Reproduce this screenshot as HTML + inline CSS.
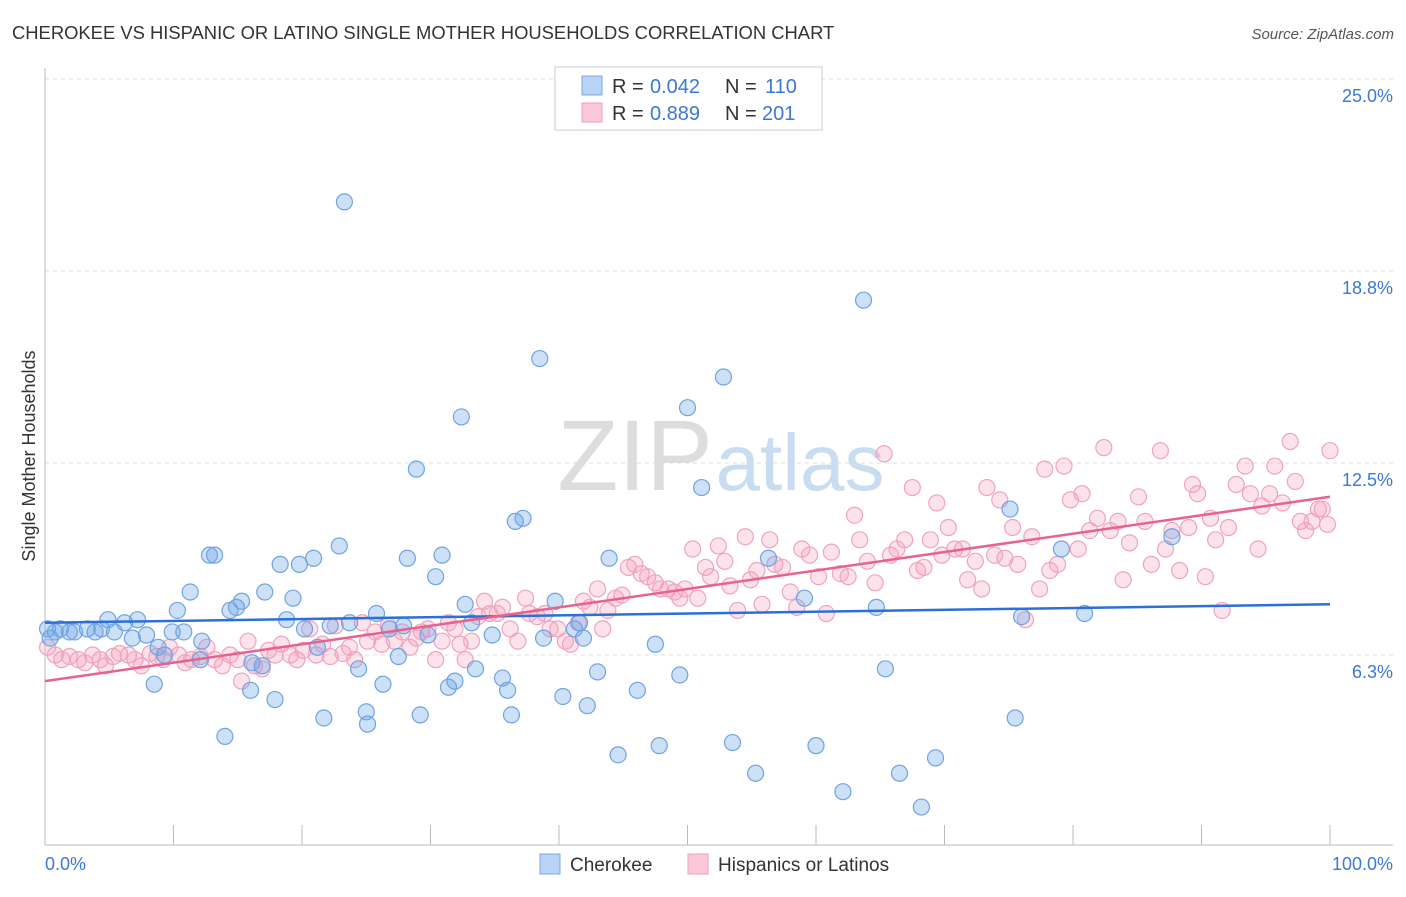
<!DOCTYPE html>
<html><head><meta charset="utf-8"><style>
body{margin:0;background:#fff;font-family:"Liberation Sans",sans-serif}
svg text{font-family:"Liberation Sans",sans-serif}
</style></head><body>
<svg id="chart" width="1406" height="892" xmlns="http://www.w3.org/2000/svg">
<text x="12" y="39" font-size="18.4" fill="#333">CHEROKEE VS HISPANIC OR LATINO SINGLE MOTHER HOUSEHOLDS CORRELATION CHART</text>
<text x="1394" y="39" font-size="15" fill="#555" text-anchor="end" font-style="italic">Source: ZipAtlas.com</text>
<g>
<text x="635" y="490" font-size="100" font-family="Liberation Serif" fill="#ddd" text-anchor="middle">ZIP</text>
<text x="800" y="490" font-size="80" fill="#c8dcf2" text-anchor="middle">atlas</text>
</g>
<g id="grid"></g>
<g id="axes"></g>
<g id="marks"></g>
<text x="35" y="456" font-size="18" fill="#333" text-anchor="middle" transform="rotate(-90 35 456)">Single Mother Households</text>
<g>
<rect x="555" y="67" width="267" height="63" fill="#fff" stroke="#ccc"/>
<rect x="582" y="76" width="20" height="19" fill="#b8d3f5" stroke="#7aa9e6"/>
<text x="612" y="93" font-size="20" fill="#333">R =</text><text x="650" y="93" font-size="20" fill="#3b78d8">0.042</text>
<text x="725" y="93" font-size="20" fill="#333">N =</text><text x="765" y="93" font-size="20" fill="#3b78d8">110</text>
<rect x="582" y="103" width="20" height="19" fill="#fbc8d8" stroke="#f0a0bb"/>
<text x="612" y="120" font-size="20" fill="#333">R =</text><text x="650" y="120" font-size="20" fill="#3b78d8">0.889</text>
<text x="725" y="120" font-size="20" fill="#333">N =</text><text x="762" y="120" font-size="20" fill="#3b78d8">201</text>
</g>
<g>
<rect x="540" y="854" width="20" height="20" fill="#b8d3f5" stroke="#7aa9e6"/>
<text x="570" y="871" font-size="19" fill="#333">Cherokee</text>
<rect x="688" y="854" width="20" height="20" fill="#fbc8d8" stroke="#f0a0bb"/>
<text x="718" y="871" font-size="19" fill="#333">Hispanics or Latinos</text>
</g>
</svg>
<script>
const yTicks=[6.25,12.5,18.75,25];
const yTickLabels=["6.3%","12.5%","18.8%","25.0%"];
const xTicks=[0,10,20,30,40,50,60,70,80,90,100];
const xEndLabels=["0.0%","100.0%"];
const blueX=[0.2,0.4,0.8,1.2,1.9,2.3,3.3,3.9,4.4,4.9,5.4,6.2,6.8,7.2,7.9,8.5,8.8,9.3,9.9,10.3,10.8,11.3,12.1,12.2,12.8,13.2,14.0,14.4,14.9,15.3,16.0,16.1,16.9,17.1,17.9,18.3,18.8,19.3,19.8,20.2,20.9,21.2,21.7,22.2,22.9,23.3,23.7,24.4,25.0,25.1,25.8,26.3,26.8,27.5,27.9,28.2,28.9,29.2,29.8,30.4,30.9,31.4,31.9,32.4,32.7,33.2,33.5,34.8,35.6,36.0,36.3,36.6,37.2,38.5,38.8,39.7,40.3,41.2,41.6,41.9,42.2,43.0,43.9,44.6,46.1,47.5,47.8,49.4,50.0,51.1,52.8,53.5,55.3,56.3,59.1,60.0,62.1,63.7,64.7,65.4,66.5,68.2,69.3,75.1,75.5,76.0,79.1,80.9,87.7];
const blueY=[7.1,6.8,7.0,7.1,7.0,7.0,7.1,7.0,7.1,7.4,7.0,7.3,6.8,7.4,6.9,5.3,6.5,6.25,7.0,7.7,7.0,8.3,6.1,6.7,9.5,9.5,3.6,7.7,7.8,8.0,5.1,6.0,5.9,8.3,4.8,9.2,7.4,8.1,9.2,7.1,9.4,6.5,4.2,7.2,9.8,21.0,7.3,5.8,4.4,4.0,7.6,5.3,7.1,6.2,7.2,9.4,12.3,4.3,6.9,8.8,9.5,5.2,5.4,14.0,7.9,7.3,5.8,6.9,5.5,5.1,4.3,10.6,10.7,15.9,6.8,8.0,4.9,7.1,7.3,6.8,4.6,5.7,9.4,3.0,5.1,6.6,3.3,5.6,14.3,11.7,15.3,3.4,2.4,9.4,8.1,3.3,1.8,17.8,7.8,5.8,2.4,1.3,2.9,11.0,4.2,7.5,9.7,7.6,10.1];
const pinkX=[0.2,0.8,1.3,1.9,2.6,3.1,3.7,4.3,4.7,5.3,5.8,6.5,7.0,7.5,8.2,8.7,9.2,9.7,10.4,10.9,11.4,12.1,12.6,13.2,13.8,14.4,15.0,15.3,15.8,16.3,16.9,17.4,17.9,18.4,19.1,19.6,20.1,20.6,21.1,21.6,22.2,22.6,23.2,23.7,24.1,24.7,25.1,25.7,26.2,26.7,27.2,27.8,28.4,28.9,29.3,29.8,30.4,30.9,31.4,31.9,32.3,32.7,33.2,33.7,34.2,34.6,35.2,35.6,36.2,36.8,37.4,37.7,38.3,38.9,39.3,39.9,40.5,40.9,41.5,41.9,42.4,43.0,43.4,43.8,44.4,44.9,45.4,45.9,46.4,46.9,47.5,47.9,48.5,49.0,49.4,49.8,50.4,50.8,51.4,51.8,52.4,52.9,53.3,53.9,54.5,54.9,55.4,55.8,56.4,56.8,57.4,58.0,58.5,58.9,59.5,60.2,60.8,61.2,61.9,62.5,63.0,63.4,64.0,64.6,65.3,65.8,66.3,66.9,67.5,67.9,68.4,68.9,69.4,69.8,70.3,70.8,71.4,71.8,72.4,72.9,73.3,73.9,74.3,74.7,75.3,75.7,76.3,76.8,77.4,77.8,78.2,78.8,79.3,79.8,80.4,80.7,81.3,81.9,82.4,82.9,83.5,83.9,84.4,85.1,85.6,86.1,86.8,87.2,87.7,88.3,89.0,89.3,89.7,90.3,90.7,91.1,91.6,92.1,92.7,93.4,93.8,94.4,94.7,95.3,95.7,96.3,96.9,97.3,97.7,98.1,98.6,99.1,99.4,99.8,100];
const pinkY=[6.5,6.25,6.1,6.2,6.1,6.0,6.25,6.1,5.9,6.2,6.3,6.25,6.1,5.9,6.3,6.2,6.1,6.5,6.25,6.0,6.1,6.2,6.5,6.1,5.9,6.25,6.1,5.4,6.7,5.9,5.8,6.4,6.25,6.6,6.25,6.1,6.4,7.1,6.25,6.6,6.2,7.2,6.3,6.5,6.1,7.3,6.7,7.0,6.6,7.2,6.7,7.0,6.5,6.8,7.0,7.1,6.1,6.7,7.3,7.1,6.6,6.1,6.7,7.5,8.0,7.6,7.6,7.8,7.1,6.7,8.1,7.6,7.5,7.6,7.1,7.1,6.7,6.6,7.3,8.0,7.8,8.4,7.1,7.7,8.1,8.2,9.1,9.2,8.9,8.8,8.6,8.4,8.4,8.3,8.1,8.4,9.7,8.1,9.1,8.8,9.8,9.3,8.5,7.7,10.1,8.7,9.0,7.9,10.0,9.2,9.1,8.3,7.8,9.7,9.5,8.8,7.6,9.6,8.9,8.8,10.8,10.0,9.3,8.6,12.8,9.5,9.7,10.0,11.7,9.0,9.1,10.0,11.2,9.5,10.4,9.7,9.7,8.7,9.3,8.4,11.7,9.5,11.3,9.4,10.4,9.2,7.4,10.1,8.4,12.3,9.0,9.2,12.4,11.3,9.7,11.5,10.3,10.7,13.0,10.3,10.6,8.7,9.9,11.4,10.6,9.2,12.9,9.7,10.3,9.0,10.4,11.8,11.5,8.8,10.7,10.0,7.7,10.4,11.8,12.4,11.5,9.7,11.1,11.5,12.4,11.2,13.2,11.9,10.6,10.3,10.6,11.0,11.0,10.5,12.9];
const blueTrend=[7.3,7.9];
const pinkTrend=[5.4,11.4];

const NS="http://www.w3.org/2000/svg";
const X=v=>45+v*12.85;
const Y=v=>847-v*30.72;
function mk(tag,attrs,parent){const e=document.createElementNS(NS,tag);for(const k in attrs)e.setAttribute(k,attrs[k]);parent.appendChild(e);return e;}
const grid=document.getElementById('grid'),axes=document.getElementById('axes'),marks=document.getElementById('marks');
yTicks.forEach((t,i)=>{
  const l=mk('line',{x1:45,x2:1393,y1:Y(t),y2:Y(t),stroke:'#ddd','stroke-dasharray':'4,4'},grid);
  
  
  const tx=mk('text',{x:1393,y:Y(t)+23,'font-size':18,fill:'#3b78d8','text-anchor':'end'},axes);
  tx.textContent=yTickLabels[i];
  
  
});
const ax=mk('line',{x1:45,x2:1393,y1:845,y2:845,stroke:'#bbb'},axes);


const ay=mk('line',{x1:45,x2:45,y1:68,y2:845,stroke:'#bbb'},axes);


xTicks.forEach(t=>{
  const l=mk('line',{x1:X(t),x2:X(t),y1:825,y2:845,stroke:'#bbb'},axes);
  
  
});
[[0,'start',45],[100,'end',1393]].forEach((d,i)=>{
  const tx=mk('text',{x:d[2],y:870,'font-size':18,fill:'#3b78d8','text-anchor':d[1]},axes);
  tx.textContent=xEndLabels[i];
  
  
});
pinkX.forEach((x,i)=>{
  const c=mk('circle',{cx:X(x),cy:Y(pinkY[i]),r:8,fill:'rgba(245,160,190,0.3)',stroke:'#f0a3bd','stroke-width':1.2},marks);
  
  
});
blueX.forEach((x,i)=>{
  const c=mk('circle',{cx:X(x),cy:Y(blueY[i]),r:8,fill:'rgba(110,165,230,0.35)',stroke:'#6fa3e3','stroke-width':1.2},marks);
  
  
});
const bt=mk('line',{x1:X(0),x2:X(100),y1:Y(blueTrend[0]),y2:Y(blueTrend[1]),stroke:'#2c6fd6','stroke-width':2.5},marks);


const pt=mk('line',{x1:X(0),x2:X(100),y1:Y(pinkTrend[0]),y2:Y(pinkTrend[1]),stroke:'#e8628e','stroke-width':2.5},marks);


</script>
</body></html>
